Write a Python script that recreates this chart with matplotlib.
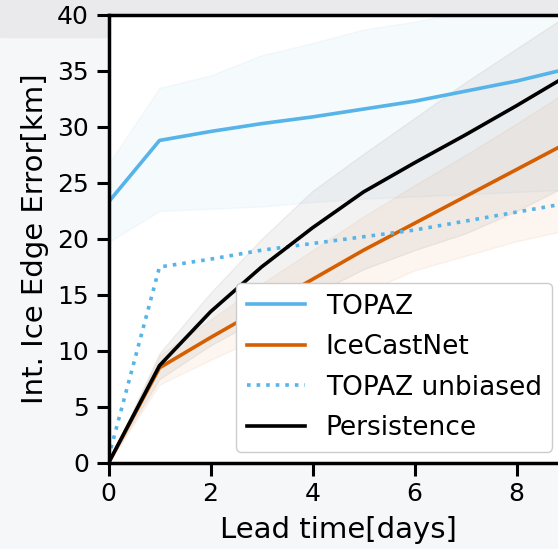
import numpy as np
import matplotlib.pyplot as plt
from matplotlib.patches import Rectangle

# lead time in days
lead = [0, 1, 2, 3, 4, 5, 6, 7, 8, 9]

topaz = [23.3, 28.8, 29.6, 30.3, 30.9, 31.6, 32.3, 33.2, 34.1, 35.2]
topaz_hi = [26.7, 33.5, 34.6, 36.4, 37.5, 38.7, 39.4, 40.3, 41.0, 41.8]
topaz_lo = [19.7, 22.5, 22.7, 22.9, 23.3, 23.6, 23.8, 24.0, 24.2, 24.4]

icecast = [0.0, 8.5, 11.2, 13.8, 16.4, 19.0, 21.4, 23.8, 26.2, 28.6]
icecast_hi = [0.0, 9.6, 12.8, 16.0, 19.0, 22.0, 24.8, 27.5, 30.3, 33.2]
icecast_lo = [0.0, 7.0, 9.2, 11.3, 13.3, 15.2, 17.2, 18.5, 19.8, 20.8]

unbiased = [0.5, 17.5, 18.2, 19.0, 19.6, 20.2, 20.8, 21.6, 22.4, 23.2]

persist = [0.0, 8.7, 13.5, 17.5, 21.0, 24.2, 26.8, 29.3, 31.9, 34.6]
persist_hi = [0.0, 9.8, 15.2, 20.0, 24.3, 27.6, 30.8, 34.0, 37.0, 40.0]
persist_lo = [0.0, 7.5, 10.5, 13.0, 15.0, 17.3, 19.0, 20.5, 22.5, 24.8]

blue = '#56B4E9'
orange = '#D55E00'

fig = plt.figure(figsize=(5.58, 5.49), dpi=100, facecolor='#f5f7f9')
# grey strip at the very top (the picture is a crop of a bigger page)
fig.add_artist(Rectangle((0, 1 - 37 / 549), 1, 37 / 549, transform=fig.transFigure,
                         color='#eaeaec', zorder=-5))

ax = fig.add_axes([108.5 / 558, 86 / 549, 459 / 558, 448 / 549])
ax.set_facecolor('white')

ax.fill_between(lead, topaz_lo, topaz_hi, color=blue, alpha=0.06)
ax.fill_between(lead, persist_lo, persist_hi, color='grey', alpha=0.1)
ax.fill_between(lead, icecast_lo, icecast_hi, color=orange, alpha=0.06)

ax.plot(lead, topaz, color=blue, lw=2.6, label='TOPAZ')
ax.plot(lead, icecast, color=orange, lw=2.6, label='IceCastNet')
ax.plot(lead, unbiased, color=blue, lw=2.6, ls=':', label='TOPAZ unbiased')
ax.plot(lead, persist, color='black', lw=2.6, label='Persistence')

ax.set_xlim(0, 9)
ax.set_ylim(0, 40)
ax.set_xticks([0, 2, 4, 6, 8])
ax.set_yticks(range(0, 41, 5))
ax.tick_params(labelsize=18, length=9, width=2.2, pad=5)
for s in ax.spines.values():
    s.set_linewidth(2.5)

ax.set_xlabel('Lead time[days]', fontsize=21, labelpad=7)
ax.set_ylabel('Int. Ice Edge Error[km]', fontsize=21, labelpad=6)

ax.legend(loc='upper left', bbox_to_anchor=(236 / 558, 1 - 283 / 549),
          bbox_transform=fig.transFigure, fontsize=19, handlelength=2.2,
          labelspacing=0.55, borderaxespad=0, framealpha=1, edgecolor='#cccccc')

fig.savefig('out.png', dpi=100, facecolor=fig.get_facecolor())
